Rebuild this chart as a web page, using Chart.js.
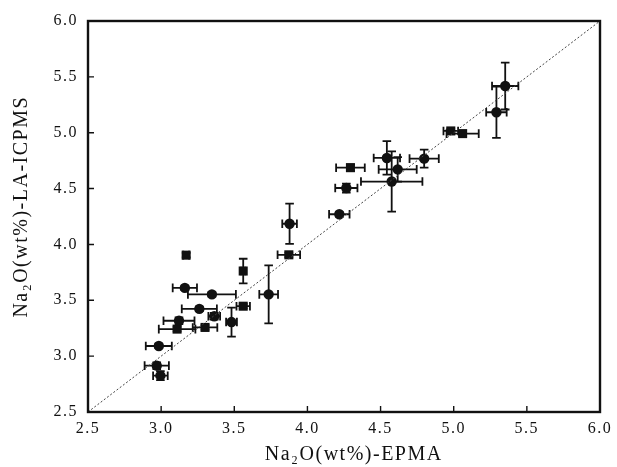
<!DOCTYPE html>
<html>
<head>
<meta charset="utf-8">
<script src="https://cdn.jsdelivr.net/npm/chart.js@4/dist/chart.umd.min.js"></script>
<style>
  html, body { margin: 0; padding: 0; background: #ffffff; }
</style>
</head>
<body>
<canvas id="grafico" width="617" height="467"></canvas>
<script>
// circulos: EPMA (x), LA-ICPMS (y) e erros
const circX  = [5.352, 5.292, 4.798, 4.543, 4.617, 4.576, 4.266, 4.218, 3.878, 3.162, 3.347, 3.735, 3.261, 3.363, 3.481, 3.122, 2.984, 2.970, 2.995];
const circY  = [5.418, 5.183, 4.768, 4.774, 4.672, 4.563, 4.505, 4.270, 4.185, 3.611, 3.553, 3.553, 3.423, 3.357, 3.305, 3.317, 3.091, 2.915, 2.825];
const circEx = [0.09, 0.07, 0.10, 0.09, 0.13, 0.21, 0.076, 0.07, 0.05, 0.083, 0.164, 0.064, 0.12, 0.04, 0.037, 0.106, 0.089, 0.083, 0.05];
const circEy = [0.21, 0.23, 0.08, 0.15, 0.11, 0.27, 0.04, 0.02, 0.18, 0.02, 0.02, 0.26, 0.02, 0.03, 0.13, 0.03, 0.02, 0.03, 0.04];

// quadrados
const quadX  = [4.980, 5.061, 4.294, 3.873, 3.171, 3.561, 3.561, 3.300, 3.109];
const quadY  = [5.016, 4.992, 4.687, 3.907, 3.904, 3.762, 3.447, 3.257, 3.242];
const quadEx = [0.05, 0.11, 0.098, 0.077, 0.02, 0.015, 0.046, 0.084, 0.125];
const quadEy = [0.02, 0.02, 0.03, 0.02, 0.02, 0.11, 0.02, 0.02, 0.02];

// linha 1:1
const linha11 = [2.5, 6.0];

const tickLabels = ['2.5', '3.0', '3.5', '4.0', '4.5', '5.0', '5.5', '6.0'];

function pontos(xs, ys, exs, eys) {
    return xs.map(function (x, i) {
        return { x: x, y: ys[i], ex: exs[i], ey: eys[i] };
    });
}

const cor = '#111111';

// espacamento das letras (texto do original e bem espacado)
const espacamento = {
    id: 'espacamento',
    beforeDraw(chart) {
        chart.ctx.letterSpacing = '1.5px';
    }
};

// barras de erro desenhadas com as escalas do grafico
const barrasErro = {
    id: 'barrasErro',
    beforeDatasetsDraw(chart) {
        const ctx = chart.ctx;
        const sx = chart.scales.x, sy = chart.scales.y;
        const cap = 4.3;
        ctx.save();
        ctx.strokeStyle = cor;
        ctx.lineWidth = 1.8;
        chart.data.datasets.forEach(function (ds) {
            if (!ds.erro) return;
            ds.data.forEach(function (p) {
                const x = sx.getPixelForValue(p.x);
                const y = sy.getPixelForValue(p.y);
                const x1 = sx.getPixelForValue(p.x - p.ex);
                const x2 = sx.getPixelForValue(p.x + p.ex);
                const y1 = sy.getPixelForValue(p.y - p.ey);
                const y2 = sy.getPixelForValue(p.y + p.ey);
                ctx.beginPath();
                ctx.moveTo(x1, y); ctx.lineTo(x2, y);
                ctx.moveTo(x1, y - cap); ctx.lineTo(x1, y + cap);
                ctx.moveTo(x2, y - cap); ctx.lineTo(x2, y + cap);
                ctx.moveTo(x, y1); ctx.lineTo(x, y2);
                ctx.moveTo(x - cap, y1); ctx.lineTo(x + cap, y1);
                ctx.moveTo(x - cap, y2); ctx.lineTo(x + cap, y2);
                ctx.stroke();
            });
        });
        ctx.restore();
    }
};

// moldura e marcas para dentro
const moldura = {
    id: 'moldura',
    afterDraw(chart) {
        const ctx = chart.ctx;
        const a = chart.chartArea;
        const sx = chart.scales.x, sy = chart.scales.y;
        ctx.save();
        ctx.strokeStyle = cor;
        ctx.lineWidth = 1.4;
        ctx.beginPath();
        sx.ticks.forEach(function (t, i) {
            const px = sx.getPixelForTick(i);
            ctx.moveTo(px, a.bottom); ctx.lineTo(px, a.bottom - 6);
        });
        sy.ticks.forEach(function (t, i) {
            const py = sy.getPixelForTick(i);
            ctx.moveTo(a.left, py); ctx.lineTo(a.left + 6, py);
        });
        ctx.stroke();
        ctx.lineWidth = 2.4;
        ctx.strokeRect(a.left, a.top, a.right - a.left, a.bottom - a.top);
        ctx.restore();
    }
};

const fonte = "'Liberation Serif', 'Times New Roman', serif";

new Chart(document.getElementById('grafico'), {
    type: 'scatter',
    data: {
        datasets: [
            {
                type: 'line',
                data: linha11.map(function (v) { return { x: v, y: v }; }),
                borderColor: '#444444',
                borderWidth: 1,
                borderDash: [2, 2],
                pointRadius: 0,
                fill: false
            },
            {
                data: pontos(circX, circY, circEx, circEy),
                erro: true,
                pointStyle: 'circle',
                pointRadius: 5.2,
                backgroundColor: cor,
                borderColor: cor,
                borderWidth: 0
            },
            {
                data: pontos(quadX, quadY, quadEx, quadEy),
                erro: true,
                pointStyle: 'rect',
                pointRadius: 6.4,
                backgroundColor: cor,
                borderColor: cor,
                borderWidth: 0
            }
        ]
    },
    options: {
        responsive: false,
        animation: false,
        layout: { padding: { top: 21, right: 17, left: 0, bottom: 0 } },
        plugins: {
            legend: { display: false },
            tooltip: { enabled: false }
        },
        scales: {
            x: {
                type: 'linear',
                min: 2.5, max: 6.0,
                afterFit: function (s) { s.height = 55; },
                afterBuildTicks: function (s) {
                    s.ticks = tickLabels.map(function (t) { return { value: parseFloat(t) }; });
                },
                grid: { display: false, drawTicks: false },
                border: { display: false },
                ticks: {
                    padding: 7,
                    color: cor,
                    font: { family: fonte, size: 16 },
                    callback: function (v) { return v.toFixed(1); }
                },
                title: {
                    display: true,
                    text: '   Na₂O(wt%)-EPMA',
                    color: cor,
                    font: { family: fonte, size: 20 },
                    padding: { top: 4, bottom: 0 }
                }
            },
            y: {
                type: 'linear',
                min: 2.5, max: 6.0,
                afterFit: function (s) { s.width = 88; },
                afterBuildTicks: function (s) {
                    s.ticks = tickLabels.map(function (t) { return { value: parseFloat(t) }; });
                },
                grid: { display: false, drawTicks: false },
                border: { display: false },
                ticks: {
                    padding: 10,
                    color: cor,
                    font: { family: fonte, size: 16 },
                    callback: function (v) { return v.toFixed(1); }
                },
                title: {
                    display: true,
                    text: '   Na₂O(wt%)-LA-ICPMS',
                    color: cor,
                    font: { family: fonte, size: 20 },
                    padding: { top: 10, bottom: 4 }
                }
            }
        }
    },
    plugins: [espacamento, barrasErro, moldura]
});
</script>
</body>
</html>
